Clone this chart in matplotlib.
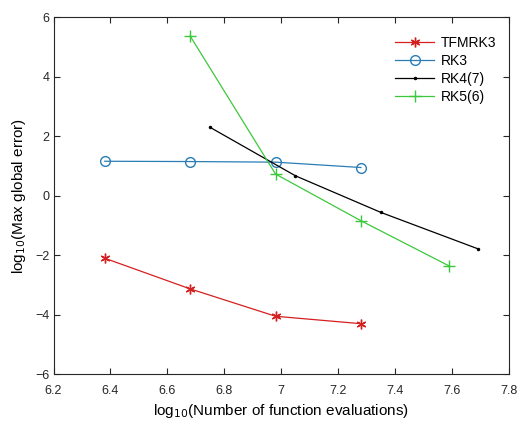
import matplotlib.pyplot as plt

plt.rcParams['font.family'] = ['Liberation Sans', 'DejaVu Sans']

# log10 of number of function evaluations / log10 of max global error
x_tfmrk3 = [6.38, 6.68, 6.98, 7.28]
y_tfmrk3 = [-2.1, -3.13, -4.05, -4.3]

x_rk3 = [6.38, 6.68, 6.98, 7.28]
y_rk3 = [1.16, 1.15, 1.13, 0.95]

x_rk47 = [6.75, 7.05, 7.35, 7.69]
y_rk47 = [2.3, 0.67, -0.56, -1.78]

x_rk56 = [6.68, 6.98, 7.28, 7.59]
y_rk56 = [5.37, 0.73, -0.84, -2.36]

fig = plt.figure(figsize=(5.18, 4.21), dpi=100)
ax = fig.add_axes([0.1033, 0.111, 0.8793, 0.848])

ax.plot(x_tfmrk3, y_tfmrk3, '-', color='#d42020', marker=(6, 2, 0), markersize=7,
        linewidth=0.9, label='TFMRK3')
ax.plot(x_rk3, y_rk3, '-', color='#2a7db5', marker='o', markersize=7, markerfacecolor='none',
        linewidth=0.9, label='RK3')
ax.plot(x_rk47, y_rk47, '-', color='black', marker='.', markersize=3,
        linewidth=0.9, label='RK4(7)')
ax.plot(x_rk56, y_rk56, '-', color='#3cc83c', marker='+', markersize=8,
        linewidth=0.9, label='RK5(6)')

ax.set_xlim(6.2, 7.8)
ax.set_ylim(-6, 6)
ax.set_xticks([6.2, 6.4, 6.6, 6.8, 7.0, 7.2, 7.4, 7.6, 7.8])
ax.set_xticklabels(['6.2', '6.4', '6.6', '6.8', '7', '7.2', '7.4', '7.6', '7.8'])
ax.set_yticks([-6, -4, -2, 0, 2, 4, 6])
ax.tick_params(direction='in', top=True, right=True, labelsize=9, colors='#262626', length=4)
ax.tick_params(axis='x', pad=8)
ax.tick_params(axis='y', pad=3)
for s in ax.spines.values():
    s.set_color('#262626')
    s.set_linewidth(0.8)

ax.set_xlabel(r'log$_{10}$(Number of function evaluations)', fontsize=11, labelpad=3)
ax.set_ylabel(r'log$_{10}$(Max global error)', fontsize=11, labelpad=5)

leg = ax.legend(loc='upper left', bbox_to_anchor=(0.729, 0.975), frameon=False, fontsize=10,
                handlelength=2.8, handletextpad=0.5, labelspacing=0.28, borderaxespad=0.3)

fig.savefig('out.png', dpi=100)
